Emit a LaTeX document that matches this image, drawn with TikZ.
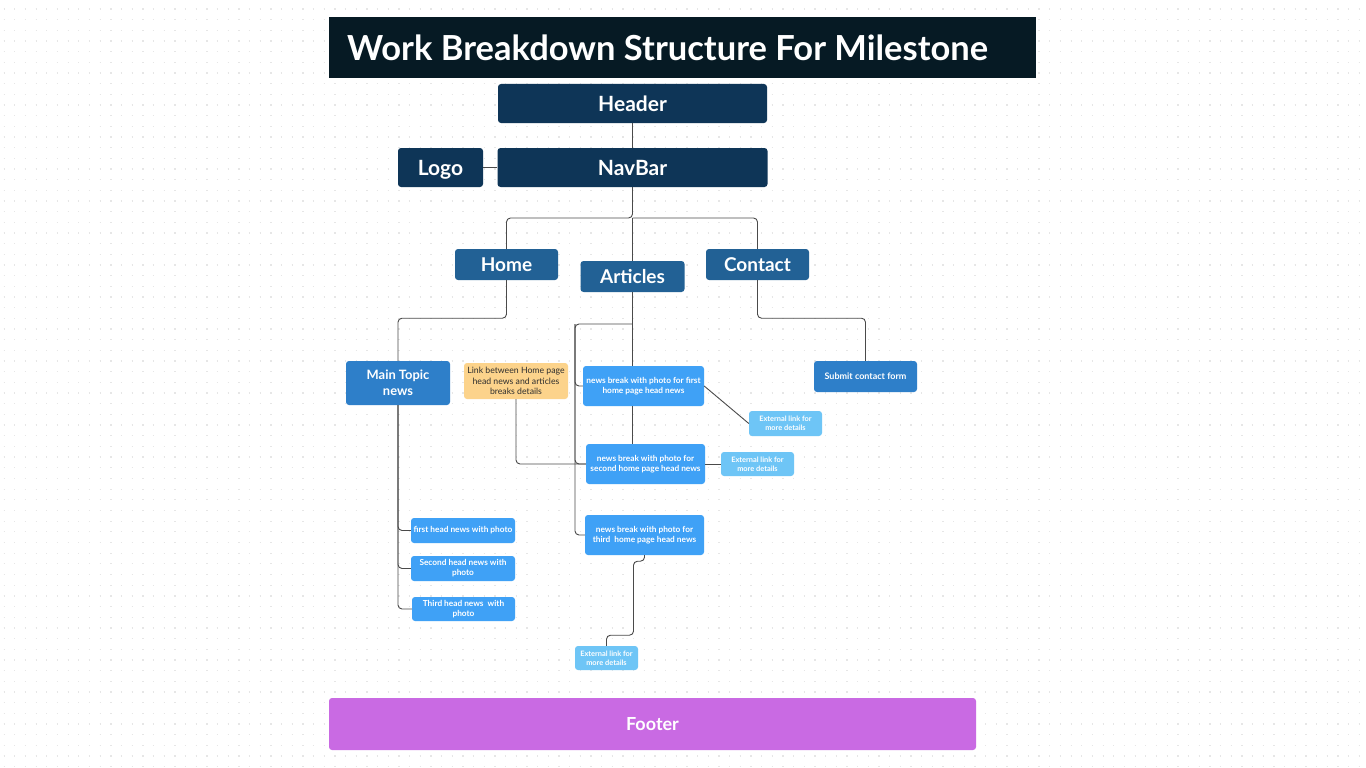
\documentclass[tikz,border=0pt]{standalone}
\usepackage{fontspec}
\setmainfont{Lato}
\usetikzlibrary{calc}
\definecolor{titlebg}{HTML}{061A24}
\definecolor{navy}{HTML}{0E3557}
\definecolor{midblue}{HTML}{226195}
\definecolor{topicblue}{HTML}{2E7FC9}
\definecolor{brightblue}{HTML}{3FA1F6}
\definecolor{lightblue}{HTML}{6EC5F6}
\definecolor{linkorange}{HTML}{FCD38B}
\definecolor{footerpurple}{HTML}{C96AE3}
\definecolor{dotgray}{HTML}{E6E6E6}
\definecolor{linegray}{HTML}{4A4A4A}
\definecolor{darktext}{HTML}{2E2E2E}
\tikzset{
  box/.style={rectangle, rounded corners=3pt, inner sep=0pt, align=center, text=white},
  bigbox/.style={box, fill=navy, text depth=0pt, font=\fontsize{21}{24}\selectfont\bfseries},
  midbox/.style={box, fill=midblue, text depth=0pt, font=\fontsize{19}{22}\selectfont\bfseries},
  topicbox/.style={box, fill=topicblue},
  newsbox/.style={box, fill=brightblue, font=\fontsize{8.3}{10}\selectfont\bfseries},
  extbox/.style={box, fill=lightblue, font=\fontsize{7.4}{9}\selectfont\bfseries},
  conn/.style={draw=linegray, line width=0.9pt, rounded corners=4pt},
  dotrow/.style={draw=dotgray, line width=1.3pt, dash pattern=on 1.3pt off 9.37pt}
}
\begin{document}
\begin{tikzpicture}[x=1pt,y=-1pt]
\useasboundingbox (0,0) rectangle (1366,768);
\fill[white] (0,0) rectangle (1366,768);
\foreach \r in {0,...,71} {
  \draw[dotrow] (3.5,{9+\r*10.67}) -- (1366,{9+\r*10.67});
}
% title
\node[rectangle, fill=titlebg, minimum width=707pt, minimum height=61pt, inner sep=0pt] (titlebox) at (682.5,47.5) {};
\node[anchor=west, text=white, inner sep=0pt, font=\fontsize{34.5}{38}\selectfont\bfseries] (title) at (347,48) {Work Breakdown Structure For Milestone};
% top level
\node[bigbox, minimum width=269pt, minimum height=39pt] (hdr) at (632.5,103.5) {Header};
\node[bigbox, minimum width=85pt, minimum height=39pt] (logo) at (440.5,167.5) {Logo};
\node[bigbox, minimum width=270pt, minimum height=39pt] (nav) at (632.5,167.5) {NavBar};
\node[midbox, minimum width=103pt, minimum height=31pt] (home) at (506.5,264.5) {Home};
\node[midbox, minimum width=104pt, minimum height=31pt] (art) at (632.5,276.5) {Articles};
\node[midbox, minimum width=103pt, minimum height=31pt] (contact) at (757.5,264.5) {Contact};
% second level
\node[topicbox, minimum width=104pt, minimum height=44pt, font=\fontsize{12.9}{15.5}\selectfont\bfseries] (main) at (398,383) {Main Topic\\news};
\node[box, fill=linkorange, text=darktext, minimum width=104pt, minimum height=36pt, font=\fontsize{8.7}{10.2}\selectfont] (link) at (516,381) {Link between Home page\\head news and articles\\breaks details};
\node[newsbox, minimum width=121pt, minimum height=40pt] (nb1) at (643.5,386) {news break with photo for first\\home page head news};
\node[newsbox, minimum width=119pt, minimum height=40pt] (nb2) at (645.5,464) {news break with photo for\\second home page head news};
\node[newsbox, minimum width=119pt, minimum height=40pt] (nb3) at (644.5,535) {news break with photo for\\third\ \ home page head news};
\node[extbox, minimum width=73pt, minimum height=25pt] (ext1) at (785.5,423.5) {External link for\\more details};
\node[extbox, minimum width=73pt, minimum height=24pt] (ext2) at (757.5,464) {External link for\\more details};
\node[extbox, minimum width=63pt, minimum height=24pt] (ext3) at (606.5,658) {External link for\\more details};
\node[topicbox, minimum width=103pt, minimum height=31pt, font=\fontsize{9}{11}\selectfont\bfseries] (submit) at (865.5,376.5) {Submit contact form};
\node[newsbox, minimum width=104pt, minimum height=25pt] (h1) at (463,530.5) {first head news with photo};
\node[newsbox, minimum width=104pt, minimum height=25pt] (h2) at (463,568.5) {Second head news with\\photo};
\node[newsbox, minimum width=103pt, minimum height=24pt] (h3) at (463.5,609) {Third head news\ \ with\\photo};
% footer
\node[box, fill=footerpurple, minimum width=647pt, minimum height=52pt, font=\fontsize{18}{21}\selectfont\bfseries] (footer) at (652.5,724) {Footer};
% connectors
\coordinate (j1) at (632.5,218);
\coordinate (b0) at (575,324);
\draw[conn] (hdr.south) -- (nav.north);
\draw[conn] (logo.east) -- (nav.west);
\draw[conn] (nav.south) -- (j1) -| (home.north);
\draw[conn] (j1) -| (contact.north);
\draw[conn] (j1) -- (art.north);
\draw[conn] (home.south) -- ++(0,38) -| (main.north);
\draw[conn] (main.south) |- (h1.west);
\draw[conn] (main.south) |- (h2.west);
\draw[conn] (main.south) |- (h3.west);
\draw[conn] (art.south) -- (art.south |- nb1.north);
\draw[conn] (nb1.south -| art.south) -- (nb2.north -| art.south);
\draw[conn] (art.south |- b0) -- (b0) |- (nb1.west);
\draw[conn] (b0) |- (nb2.west);
\draw[conn] (b0) |- (nb3.west);
\draw[conn] (link.south) |- (nb2.west);
\draw[conn] (nb1.east) -- (ext1.west);
\draw[conn] (nb2.east) -- (ext2.west);
\draw[conn] (nb3.south) -- ++(0,6) -- ++(-11,0) -- ++(0,74) -- ++(-27,0) -- (ext3.north);
\draw[conn] (contact.south) -- ++(0,38) -| (submit.north);
\end{tikzpicture}
\end{document}
